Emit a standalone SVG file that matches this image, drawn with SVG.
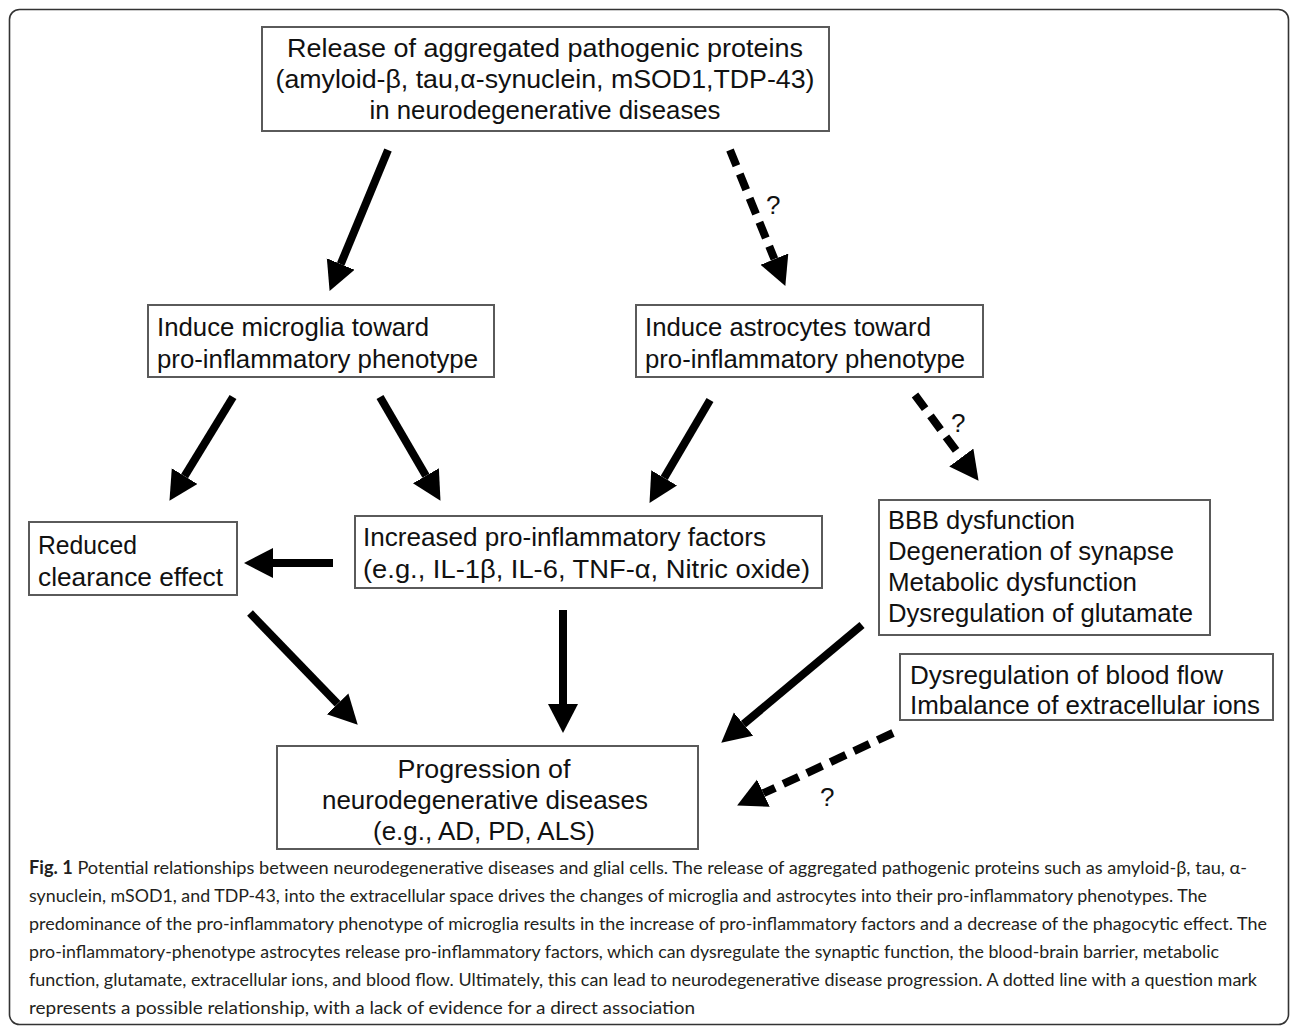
<svg xmlns="http://www.w3.org/2000/svg" width="1290" height="1027" viewBox="0 0 1290 1027">
<style>
.box{fill:#fff;stroke:#5a5a5a;stroke-width:2}
.t{font-family:"Liberation Sans",Arial,sans-serif;font-size:25.5px;fill:#111}
.c{font-family:Lato,"Open Sans",sans-serif;font-size:18px;fill:#231f20}
.a{stroke:#000;stroke-width:8;fill:none;marker-end:url(#ah)}
.d{stroke:#000;stroke-width:8;fill:none;stroke-dasharray:17 9;marker-end:url(#ah)}
.q{font-family:"Liberation Sans",Arial,sans-serif;font-size:26px;fill:#111}
</style>
<defs>
<marker id="ah" markerUnits="userSpaceOnUse" markerWidth="32" markerHeight="32" refX="0" refY="15" orient="auto" viewBox="0 0 32 32">
<path d="M0,0 L29,15 L0,30 Z" fill="#000"/>
</marker>
</defs>
<rect x="9.5" y="9.5" width="1279" height="1015" rx="10" fill="#fff" stroke="#333" stroke-width="1.6"/>

<g id="connectors">
<line class="a" x1="388" y1="150" x2="340.7" y2="264.1"/>
<line class="d" x1="730" y1="150" x2="774.4" y2="259.1"/>
<line class="a" x1="233" y1="397" x2="184.6" y2="476.1"/>
<line class="a" x1="380" y1="397" x2="425.9" y2="475.8"/>
<line class="a" x1="710" y1="400" x2="664.2" y2="477.9"/>
<line class="d" x1="915" y1="395" x2="961.3" y2="457.5"/>
<line class="a" x1="333" y1="563" x2="273" y2="563"/>
<line class="a" x1="250" y1="613" x2="337.6" y2="703.8"/>
<line class="a" x1="563" y1="610" x2="563" y2="704"/>
<line class="a" x1="862" y1="625" x2="743.5" y2="724.1"/>
<line class="d" x1="893" y1="733" x2="763.4" y2="793.2"/>
<text class="q" x="766" y="214">?</text>
<text class="q" x="951" y="432">?</text>
<text class="q" x="820" y="806">?</text>
</g>

<g id="release">
<rect class="box" x="262" y="27" width="567" height="104"/>
<text class="t" x="545" y="57" text-anchor="middle" textLength="516" lengthAdjust="spacingAndGlyphs">Release of aggregated pathogenic proteins</text>
<text class="t" x="545" y="88" text-anchor="middle" textLength="539" lengthAdjust="spacingAndGlyphs">(amyloid-β, tau,α-synuclein, mSOD1,TDP-43)</text>
<text class="t" x="545" y="119" text-anchor="middle" textLength="351" lengthAdjust="spacingAndGlyphs">in neurodegenerative diseases</text>
</g>

<g id="microglia">
<rect class="box" x="148" y="305" width="346" height="72"/>
<text class="t" x="157" y="336" textLength="272" lengthAdjust="spacingAndGlyphs">Induce microglia toward</text>
<text class="t" x="157" y="368" textLength="321" lengthAdjust="spacingAndGlyphs">pro-inflammatory phenotype</text>
</g>

<g id="astrocytes">
<rect class="box" x="636" y="305" width="347" height="72"/>
<text class="t" x="645" y="336" textLength="286" lengthAdjust="spacingAndGlyphs">Induce astrocytes toward</text>
<text class="t" x="645" y="368" textLength="320" lengthAdjust="spacingAndGlyphs">pro-inflammatory phenotype</text>
</g>

<g id="reduced">
<rect class="box" x="29" y="522" width="208" height="73"/>
<text class="t" x="38" y="554" textLength="99" lengthAdjust="spacingAndGlyphs">Reduced</text>
<text class="t" x="38" y="586" textLength="185" lengthAdjust="spacingAndGlyphs">clearance effect</text>
</g>

<g id="increased">
<rect class="box" x="355" y="516" width="467" height="72"/>
<text class="t" x="363" y="546" textLength="403" lengthAdjust="spacingAndGlyphs">Increased pro-inflammatory factors</text>
<text class="t" x="363" y="578" textLength="447" lengthAdjust="spacingAndGlyphs">(e.g., IL-1β, IL-6, TNF-α, Nitric oxide)</text>
</g>

<g id="bbb">
<rect class="box" x="879" y="500" width="331" height="135"/>
<text class="t" x="888" y="529" textLength="187" lengthAdjust="spacingAndGlyphs">BBB dysfunction</text>
<text class="t" x="888" y="560" textLength="286" lengthAdjust="spacingAndGlyphs">Degeneration of synapse</text>
<text class="t" x="888" y="591" textLength="249" lengthAdjust="spacingAndGlyphs">Metabolic dysfunction</text>
<text class="t" x="888" y="622" textLength="305" lengthAdjust="spacingAndGlyphs">Dysregulation of glutamate</text>
</g>

<g id="bloodflow">
<rect class="box" x="900" y="654" width="373" height="66"/>
<text class="t" x="910" y="684" textLength="313" lengthAdjust="spacingAndGlyphs">Dysregulation of blood flow</text>
<text class="t" x="910" y="714" textLength="350" lengthAdjust="spacingAndGlyphs">Imbalance of extracellular ions</text>
</g>

<g id="progression">
<rect class="box" x="277" y="746" width="421" height="103"/>
<text class="t" x="484" y="778" text-anchor="middle" textLength="173" lengthAdjust="spacingAndGlyphs">Progression of</text>
<text class="t" x="485" y="809" text-anchor="middle" textLength="326" lengthAdjust="spacingAndGlyphs">neurodegenerative diseases</text>
<text class="t" x="484" y="840" text-anchor="middle" textLength="222" lengthAdjust="spacingAndGlyphs">(e.g., AD, PD, ALS)</text>
</g>

<g id="caption">
<text class="c" x="29" y="874" textLength="1218" lengthAdjust="spacingAndGlyphs"><tspan font-weight="bold">Fig. 1</tspan> Potential relationships between neurodegenerative diseases and glial cells. The release of aggregated pathogenic proteins such as amyloid-β, tau, α-</text>
<text class="c" x="29" y="902" textLength="1178" lengthAdjust="spacingAndGlyphs">synuclein, mSOD1, and TDP-43, into the extracellular space drives the changes of microglia and astrocytes into their pro-inflammatory phenotypes. The</text>
<text class="c" x="29" y="930" textLength="1238" lengthAdjust="spacingAndGlyphs">predominance of the pro-inflammatory phenotype of microglia results in the increase of pro-inflammatory factors and a decrease of the phagocytic effect. The</text>
<text class="c" x="29" y="958" textLength="1190" lengthAdjust="spacingAndGlyphs">pro-inflammatory-phenotype astrocytes release pro-inflammatory factors, which can dysregulate the synaptic function, the blood-brain barrier, metabolic</text>
<text class="c" x="29" y="986" textLength="1228" lengthAdjust="spacingAndGlyphs">function, glutamate, extracellular ions, and blood flow. Ultimately, this can lead to neurodegenerative disease progression. A dotted line with a question mark</text>
<text class="c" x="29" y="1014" textLength="666" lengthAdjust="spacingAndGlyphs">represents a possible relationship, with a lack of evidence for a direct association</text>
</g>
</svg>
